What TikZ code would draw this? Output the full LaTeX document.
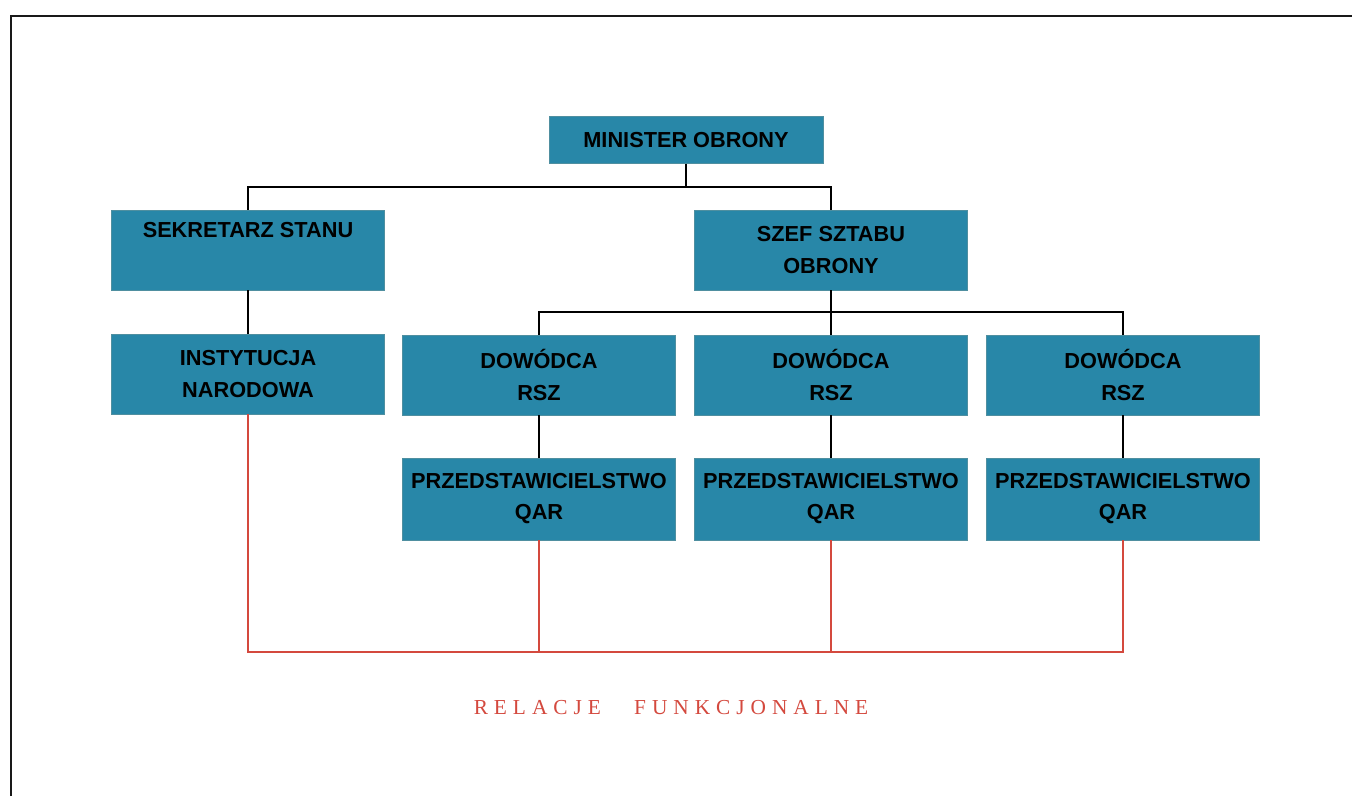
\documentclass[tikz,border=0pt]{standalone}
\usepackage{fontspec}
\newfontfamily\boxfont{Liberation Sans}
\newfontfamily\relfont[LetterSpace=28]{Liberation Serif}
\definecolor{boxfill}{HTML}{2887A8}
\definecolor{boxedge}{HTML}{4F8FA0}
\definecolor{relred}{HTML}{D4493E}
\tikzset{
  orgbox/.style={draw=boxedge, line width=0.6pt, fill=boxfill, inner sep=0pt,
    align=center, text=black,
    font=\boxfont\bfseries\fontsize{16.3pt}{23.3pt}\selectfont},
  wide/.style={minimum width=204.75pt, minimum height=60pt},
  tie/.style={draw=black, line width=0.9pt},
  funcline/.style={draw=relred, line width=1.1pt},
}
\begin{document}
\begin{tikzpicture}[x=0.75pt, y=-0.75pt]
  \useasboundingbox (0,0) rectangle (1352,796);
  \fill[white] (0,0) rectangle (1352,796);
  % page frame
  \draw[line width=2.2pt, black!90] (11,796) -- (11,16) -- (1352,16);

  % boxes
  \node[orgbox, minimum width=205.5pt, minimum height=35pt] (min) at (686,140) {MINISTER OBRONY};
  \node[orgbox, wide] (sek) at (248,250) {SEKRETARZ STANU\\\strut};
  \node[orgbox, wide] (szef) at (831,250) {SZEF SZTABU\\OBRONY};
  \node[orgbox, wide] (inst) at (248,374) {INSTYTUCJA\\NARODOWA};
  \node[orgbox, wide] (dow1) at (539,375) {DOWÓDCA\\RSZ};
  \node[orgbox, wide] (dow2) at (831,375) {DOWÓDCA\\RSZ};
  \node[orgbox, wide] (dow3) at (1123,375) {DOWÓDCA\\RSZ};
  \node[orgbox, wide, minimum height=61.5pt] (prz1) at (539,499) {PRZEDSTAWICIELSTWO\\QAR};
  \node[orgbox, wide, minimum height=61.5pt] (prz2) at (831,499) {PRZEDSTAWICIELSTWO\\QAR};
  \node[orgbox, wide, minimum height=61.5pt] (prz3) at (1123,499) {PRZEDSTAWICIELSTWO\\QAR};

  % junction levels
  \coordinate (j1) at (686,187);
  \coordinate (j2) at (831,312);
  \coordinate (jr) at (831,652);

  % line of command
  \draw[tie] (min.south) -- (j1);
  \draw[tie] (sek.north) |- (j1 -| szef.north) -- (szef.north);
  \draw[tie] (sek.south) -- (inst.north);
  \draw[tie] (szef.south) -- (j2);
  \draw[tie] (dow1.north) |- (j2 -| dow3.north) -- (dow3.north);
  \draw[tie] (j2) -- (dow2.north);
  \draw[tie] (dow1.south) -- (prz1.north);
  \draw[tie] (dow2.south) -- (prz2.north);
  \draw[tie] (dow3.south) -- (prz3.north);

  % functional relations
  \draw[funcline] (inst.south) |- (jr -| prz3.south) -- (prz3.south);
  \draw[funcline] (prz1.south) -- (prz1.south |- jr);
  \draw[funcline] (prz2.south) -- (jr);

  \node[text=relred, font=\relfont\fontsize{16pt}{19pt}\selectfont, inner sep=0pt]
    (rel) at (671,708) {RELACJE\hspace{25pt}FUNKCJONALNE};
\end{tikzpicture}
\end{document}
